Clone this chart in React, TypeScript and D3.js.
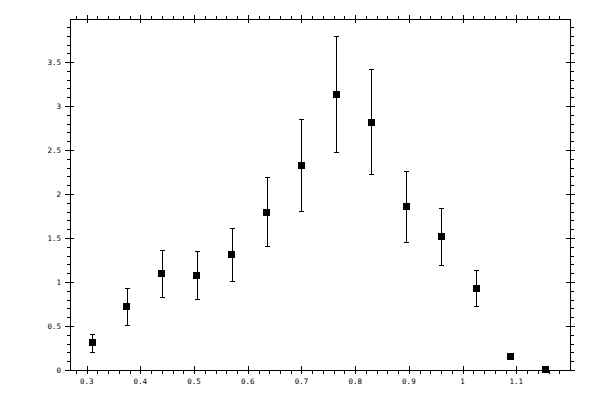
import React from "react";
import * as d3 from "d3";

const xValues = [0.31, 0.375, 0.44, 0.505, 0.57, 0.635, 0.7, 0.765, 0.83, 0.895, 0.96, 1.025, 1.09, 1.155];
const yValues = [0.307, 0.724, 1.098, 1.076, 1.314, 1.792, 2.326, 3.133, 2.814, 1.86, 1.519, 0.928, 0.159, 0.005];
const yLow = [0.2, 0.507, 0.826, 0.803, 1.008, 1.405, 1.803, 2.474, 2.224, 1.451, 1.19, 0.724, 0.145, 0.0];
const yHigh = [0.413, 0.928, 1.367, 1.348, 1.617, 2.19, 2.849, 3.792, 3.417, 2.258, 1.844, 1.133, 0.175, 0.01];

const xMajorTicks = [0.3, 0.4, 0.5, 0.6, 0.7, 0.8, 0.9, 1.0, 1.1];
const xTickLabels = ["0.3", "0.4", "0.5", "0.6", "0.7", "0.8", "0.9", "1", "1.1"];
const yMajorTicks = [0, 0.5, 1, 1.5, 2, 2.5, 3, 3.5];
const yTickLabels = ["0", "0.5", "1", "1.5", "2", "2.5", "3", "3.5"];

const W = 600;
const H = 400;
const L = 70;
const R = 570;
const T = 19;
const B = 370;

export default function App() {
  const x = d3.scaleLinear().domain([0.269, 1.2]).range([L, R]);
  const y = d3.scaleLinear().domain([0, 3.99]).range([B, T]);

  const xMinor = d3.range(0.28, 1.2, 0.02).filter(
    (v) => !xMajorTicks.some((m) => Math.abs(m - v) < 1e-6)
  );
  const yMinor = d3.range(0.1, 3.99, 0.1).filter(
    (v) => !yMajorTicks.some((m) => Math.abs(m - v) < 1e-6)
  );

  const px = (v: number) => Math.round(x(v)) + 0.5;
  const py = (v: number) => Math.round(y(v)) + 0.5;
  const font = "'DejaVu Sans Mono', monospace";
  const stroke = { stroke: "#000", strokeWidth: 1 };

  return (
    <svg
      width={W}
      height={H}
      style={{ position: "absolute", left: 0, top: 0, background: "#fff" }}
      shapeRendering="crispEdges"
    >
      <rect x={0} y={0} width={W} height={H} fill="#fff" />
      {/* frame */}
      <rect x={L + 0.5} y={T + 0.5} width={R - L} height={B - T} fill="none" {...stroke} />

      {/* x major ticks */}
      {xMajorTicks.map((t, i) => (
        <g key={"xm" + i}>
          <line x1={px(t)} x2={px(t)} y1={B - 4} y2={B + 4} {...stroke} />
          <line x1={px(t)} x2={px(t)} y1={T - 4} y2={T + 4} {...stroke} />
          <text
            x={x(t)}
            y={384}
            textAnchor="middle"
            fontFamily={font}
            fontSize={7.5}
            fill="#000"
          >
            {xTickLabels[i]}
          </text>
        </g>
      ))}
      {xMinor.map((t, i) => (
        <g key={"xn" + i}>
          <line x1={px(t)} x2={px(t)} y1={B} y2={B + 3.5} {...stroke} />
          <line x1={px(t)} x2={px(t)} y1={T - 3.5} y2={T} {...stroke} />
        </g>
      ))}

      {/* y major ticks */}
      {yMajorTicks.map((t, i) => (
        <g key={"ym" + i}>
          <line x1={L - 5} x2={L + 4} y1={py(t)} y2={py(t)} {...stroke} />
          <line x1={R - 4} x2={R + 5} y1={py(t)} y2={py(t)} {...stroke} />
          <text
            x={61}
            y={y(t)}
            dy="0.35em"
            textAnchor="end"
            fontFamily={font}
            fontSize={7.5}
            fill="#000"
          >
            {yTickLabels[i]}
          </text>
        </g>
      ))}
      {yMinor.map((t, i) => (
        <g key={"yn" + i}>
          <line x1={L - 3.5} x2={L} y1={py(t)} y2={py(t)} {...stroke} />
          <line x1={R} x2={R + 4} y1={py(t)} y2={py(t)} {...stroke} />
        </g>
      ))}

      {/* error bars and markers */}
      {xValues.map((xv, i) => {
        const cx = px(xv);
        return (
          <g key={"p" + i}>
            <line x1={cx} x2={cx} y1={y(yLow[i])} y2={y(yHigh[i])} {...stroke} />
            <line x1={cx - 2.5} x2={cx + 2.5} y1={py(yLow[i])} y2={py(yLow[i])} {...stroke} />
            <line x1={cx - 2.5} x2={cx + 2.5} y1={py(yHigh[i])} y2={py(yHigh[i])} {...stroke} />
            <rect x={x(xv) - 3.5} y={y(yValues[i]) - 3.5} width={7} height={7} fill="#000" />
          </g>
        );
      })}
    </svg>
  );
}
